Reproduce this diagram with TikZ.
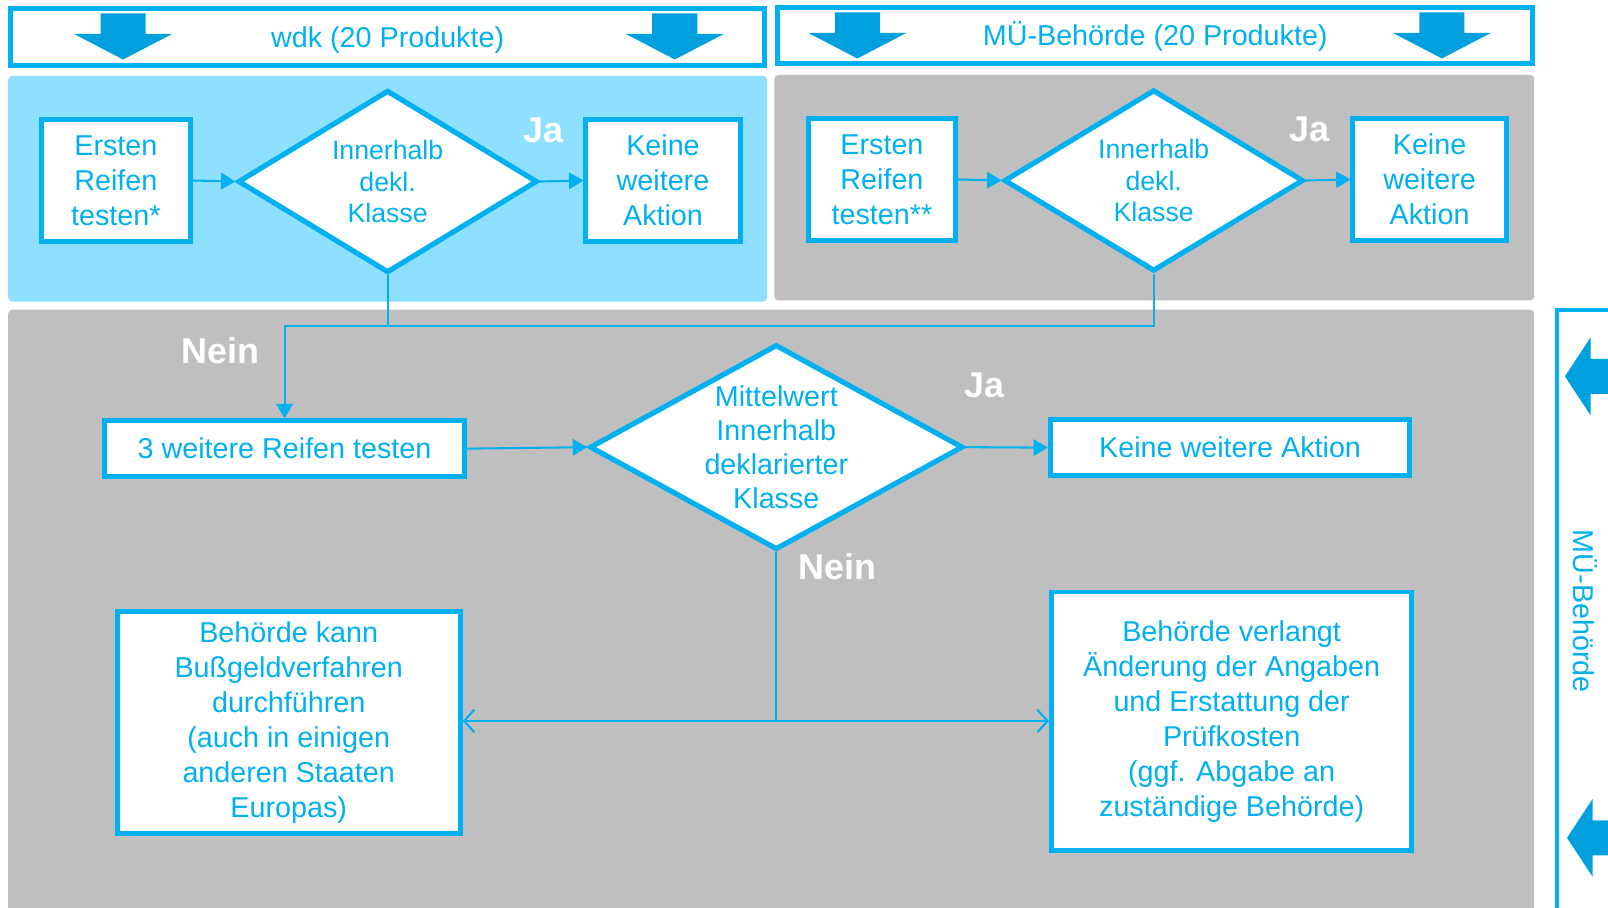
\documentclass[tikz,border=0pt]{standalone}
\usepackage{fontspec}
\setmainfont{Liberation Sans}
\usetikzlibrary{shapes.geometric,arrows.meta}
\definecolor{cy}{RGB}{0,176,240}
\definecolor{ablue}{RGB}{0,160,223}
\definecolor{lpanel}{RGB}{143,223,255}
\definecolor{gpanel}{RGB}{191,191,191}
\newcommand\bigdown[2]{\fill[ablue] (#1-22,#2) -- (#1+22,#2) -- (#1+22,#2+20) -- (#1+48,#2+20) -- (#1,#2+45) -- (#1-48,#2+20) -- (#1-22,#2+20) -- cycle;}
\begin{document}
\begin{tikzpicture}[x=0.5pt,y=-0.5pt,
  boxnode/.style={draw=cy,line width=2.4pt,fill=white,text=cy,align=center,inner sep=0pt,font=\fontsize{14}{17}\selectfont},
  decnode/.style={diamond,draw=cy,line width=2.5pt,fill=white,text=cy,align=center,inner sep=0pt,shape aspect=1.6},
  lab/.style={text=white,font=\bfseries\fontsize{17.5}{20}\selectfont,inner sep=0pt},
  conn/.style={draw=cy,line width=1pt},
  arr/.style={conn,-{Triangle[length=7pt,width=8pt]}},
  oarr/.style={conn,-{Straight Barb[length=5pt,width=11pt]}},
  banner/.style={draw=cy,line width=2.5pt,fill=white,text=cy,inner sep=0pt,font=\fontsize{14}{17}\selectfont}
]
\useasboundingbox (0,0) rectangle (1568,885);
\fill[white] (0,0) rectangle (1568,885);
% panels
\fill[lpanel,rounded corners=2pt] (8,74) rectangle (748,294);
\fill[gpanel,rounded corners=2pt] (755,73) rectangle (1496,293);
\fill[gpanel,rounded corners=2pt] (8,302) rectangle (1496,895);
% side strip
\draw[cy,line width=2pt] (1518,895) -- (1518,302) -- (1575,302);
\fill[ablue] (1526,367) -- (1551,329) -- (1551,350) -- (1575,350) -- (1575,384) -- (1551,384) -- (1551,405) -- cycle;
\fill[ablue] (1528,817) -- (1553,779) -- (1553,800) -- (1575,800) -- (1575,834) -- (1553,834) -- (1553,855) -- cycle;
\node[text=cy,rotate=-90,font=\fontsize{14}{17}\selectfont,inner sep=0pt] (side) at (1546,596) {MÜ-Behörde};
% banners
\node[banner,minimum width=367.5pt,minimum height=27.5pt] (ban1) at (378,36) {\raisebox{-1.8pt}[10pt][3pt]{wdk (20 Produkte)}};
\node[banner,minimum width=368pt,minimum height=27pt] (ban2) at (1126.5,34.5) {\raisebox{-1.5pt}[10pt][3pt]{MÜ-Behörde (20 Produkte)}};
\bigdown{120}{13}
\bigdown{658}{13}
\bigdown{836}{12}
\bigdown{1406}{12}
% top left flow
\node[boxnode,minimum width=72.75pt,minimum height=59.75pt] (b1) at (113,176) {Ersten\\Reifen\\testen*};
\node[decnode,minimum width=146pt,minimum height=89pt,font=\fontsize{13}{15.5}\selectfont] (d1) at (378,177) {Innerhalb\\dekl.\\Klasse};
\node[boxnode,minimum width=75.25pt,minimum height=59.75pt] (b2) at (646.5,176) {Keine\\weitere\\Aktion};
\node[lab] (ja1) at (530,127) {Ja};
% top right flow
\node[boxnode,minimum width=71.75pt,minimum height=59.75pt] (b3) at (860,175) {Ersten\\Reifen\\testen**};
\node[decnode,minimum width=146pt,minimum height=88.5pt,font=\fontsize{13}{15.5}\selectfont] (d2) at (1125,176) {Innerhalb\\dekl.\\Klasse};
\node[boxnode,minimum width=74.75pt,minimum height=59.75pt] (b4) at (1394,175) {Keine\\weitere\\Aktion};
\node[lab] (ja2) at (1277,126) {Ja};
% bottom flow
\node[boxnode,minimum width=175.25pt,minimum height=27.25pt] (b5) at (277.5,437.5) {3 weitere Reifen testen};
\node[decnode,shape aspect=1.8,minimum width=182pt,minimum height=100pt,font=\fontsize{14}{16.5}\selectfont] (d3) at (757,436) {Mittelwert\\Innerhalb\\deklarierter\\Klasse};
\node[boxnode,minimum width=175.25pt,minimum height=27.25pt] (b6) at (1199.5,436.5) {Keine weitere Aktion};
\node[boxnode,minimum width=167.25pt,minimum height=108.25pt] (b7) at (281.5,704.5) {Behörde kann\\Bußgeldverfahren\\durchführen\\(auch in einigen\\anderen Staaten\\Europas)};
\node[boxnode,minimum width=175.75pt,minimum height=126.25pt] (b8) at (1201,703.5) {Behörde verlangt\\Änderung der Angaben\\und Erstattung der\\Prüfkosten\\(ggf. Abgabe an\\zuständige Behörde)};
\node[lab] (nein1) at (215,342) {Nein};
\node[lab] (ja3) at (960,376) {Ja};
\node[lab] (nein2) at (817,553) {Nein};
% connectors
\draw[arr] (b1.east) -- (d1.west);
\draw[arr] (d1.east) -- (b2.west);
\draw[arr] (b3.east) -- (d2.west);
\draw[arr] (d2.east) -- (b4.west);
\coordinate (jn) at (277.5,318);
\draw[conn] (d2.south) |- (jn);
\draw[arr] (d1.south) |- (jn) -- (b5.north);
\draw[arr] (b5.east) -- (d3.west);
\draw[arr] (d3.east) -- (b6.west);
\coordinate (jb) at (757,703);
\draw[conn] (d3.south) -- (jb);
\draw[oarr] (jb) -- (jb -| b7.east);
\draw[oarr] (jb) -- (jb -| b8.west);
\end{tikzpicture}
\end{document}
